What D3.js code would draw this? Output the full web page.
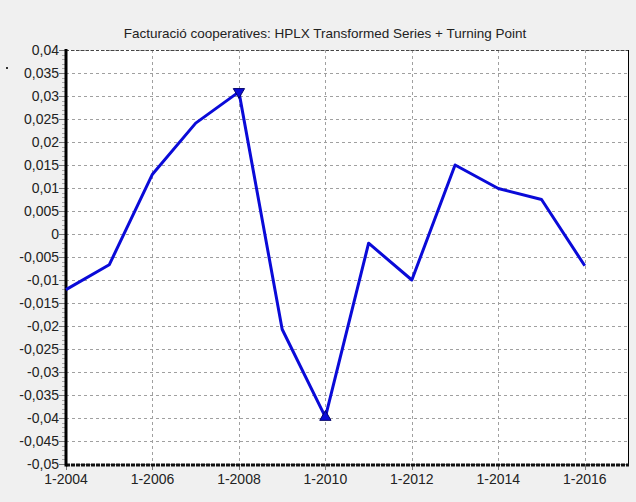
<!DOCTYPE html>
<html>
<head>
<meta charset="utf-8">
<script src="https://cdn.jsdelivr.net/npm/d3@7"></script>
<style>
  body { margin: 0; background: #f0f0f0; }
  svg { display: block; font-family: "Liberation Sans", Arial, sans-serif; }
</style>
</head>
<body>
<svg id="chart" width="636" height="502"></svg>
<script>
// values
var years = [2004, 2005, 2006, 2007, 2008, 2009, 2010, 2011, 2012, 2013, 2014, 2015, 2016];
var values = [-0.0121, -0.0067, 0.013, 0.0241, 0.0309, -0.0207, -0.0398, -0.0020, -0.0100, 0.0150, 0.0099, 0.0075, -0.0069];
var peaks = [2008];
var troughs = [2010];
var xTicks = [2004, 2006, 2008, 2010, 2012, 2014, 2016];
var title = "Facturació cooperatives: HPLX Transformed Series + Turning Point";

var svg = d3.select("#chart");
// plot box (note: "top" is taken by window.top)
var pL = 66, pR = 628, pT = 50, pB = 464;

var x = d3.scaleLinear().domain([2004, 2017]).range([pL, pR]);
var y = d3.scaleLinear().domain([-0.05, 0.04]).range([pB, pT]);

var loc = d3.formatLocale({decimal: ",", thousands: ".", grouping: [3], currency: ["", ""], minus: "-"});
var fmt = loc.format("~g");

svg.append("rect").attr("width", 636).attr("height", 502).attr("fill", "#f0f0f0");
svg.append("rect").attr("x", pL).attr("y", pT)
  .attr("width", pR - pL).attr("height", pB - pT).attr("fill", "#fff");

// grid
var g = svg.append("g");
g.selectAll(".hg").data(y.ticks(18)).enter().append("line")
  .attr("x1", pL).attr("x2", pR)
  .attr("y1", function(d) { return Math.round(y(d)) + 0.5; })
  .attr("y2", function(d) { return Math.round(y(d)) + 0.5; })
  .attr("stroke", "#a0a0a0").attr("stroke-dasharray", "3,3");
g.selectAll(".vg").data(xTicks.slice(1)).enter().append("line")
  .attr("y1", pT).attr("y2", pB)
  .attr("x1", function(d) { return Math.round(x(d)) + 0.5; })
  .attr("x2", function(d) { return Math.round(x(d)) + 0.5; })
  .attr("stroke", "#a0a0a0").attr("stroke-dasharray", "3,3");

// y axis ticks + labels
svg.selectAll(".ymin").data(d3.range(-50, 41).map(function(i) { return i / 1000; })).enter().append("line")
  .attr("x1", pL - 4).attr("x2", pL)
  .attr("y1", function(d) { return Math.round(y(d)) + 0.5; })
  .attr("y2", function(d) { return Math.round(y(d)) + 0.5; })
  .attr("stroke", "#aaa");
svg.selectAll(".ymaj").data(y.ticks(18)).enter().append("line")
  .attr("x1", pL - 7).attr("x2", pL)
  .attr("y1", function(d) { return Math.round(y(d)) + 0.5; })
  .attr("y2", function(d) { return Math.round(y(d)) + 0.5; })
  .attr("stroke", "#777");
svg.selectAll(".ylab").data(y.ticks(18)).enter().append("text")
  .attr("x", pL - 7).attr("y", function(d) { return y(d) + 5; })
  .attr("text-anchor", "end").attr("font-size", 14).attr("fill", "#222")
  .text(function(d) { return fmt(d); });

// x axis ticks + labels
svg.selectAll(".xmaj").data(xTicks).enter().append("line")
  .attr("y1", pB).attr("y2", pB + 6)
  .attr("x1", function(d) { return Math.round(x(d)) + 0.5; })
  .attr("x2", function(d) { return Math.round(x(d)) + 0.5; })
  .attr("stroke", "#777");
svg.selectAll(".xlab").data(xTicks).enter().append("text")
  .attr("x", function(d) { return x(d); }).attr("y", pB + 20)
  .attr("text-anchor", "middle").attr("font-size", 14).attr("fill", "#222")
  .text(function(d) { return "1-" + d; });

// frame
svg.append("line").attr("x1", pR + 0.5).attr("x2", pR + 0.5).attr("y1", pT).attr("y2", pB)
  .attr("stroke", "#000");
svg.append("line").attr("x1", pL).attr("x2", pR).attr("y1", pT + 0.5).attr("y2", pT + 0.5)
  .attr("stroke", "#444").attr("stroke-dasharray", "3,2");
svg.append("line").attr("x1", pL).attr("x2", pR + 1).attr("y1", pB + 1).attr("y2", pB + 1)
  .attr("stroke", "#111").attr("stroke-width", 3).attr("stroke-dasharray", "4,1");
svg.append("line").attr("x1", pL).attr("x2", pL).attr("y1", pT - 1).attr("y2", pB + 2.5)
  .attr("stroke", "#000").attr("stroke-width", 3);

// series
var line = d3.line().x(function(d, i) { return x(years[i]); }).y(function(d) { return y(d); });
svg.append("path").datum(values).attr("d", line)
  .attr("fill", "none").attr("stroke", "#0a0ad8").attr("stroke-width", 3)
  .attr("stroke-linejoin", "round");

var tri = d3.symbol().type(d3.symbolTriangle).size(55);
svg.selectAll(".peak").data(peaks).enter().append("path")
  .attr("d", tri)
  .attr("transform", function(d) { return "translate(" + x(d) + "," + y(values[years.indexOf(d)]) + ") rotate(180)"; })
  .attr("fill", "#0a0ad8").attr("stroke", "#00006a").attr("stroke-width", 1);
svg.selectAll(".trough").data(troughs).enter().append("path")
  .attr("d", tri)
  .attr("transform", function(d) { return "translate(" + x(d) + "," + y(values[years.indexOf(d)]) + ")"; })
  .attr("fill", "#0a0ad8").attr("stroke", "#00006a").attr("stroke-width", 1);

// title
svg.append("text").attr("x", 325).attr("y", 38).attr("text-anchor", "middle")
  .attr("font-size", 13.5).attr("fill", "#222").text(title);

svg.append("rect").attr("x", 6).attr("y", 67).attr("width", 2).attr("height", 2).attr("fill", "#333");
</script>
</body>
</html>
